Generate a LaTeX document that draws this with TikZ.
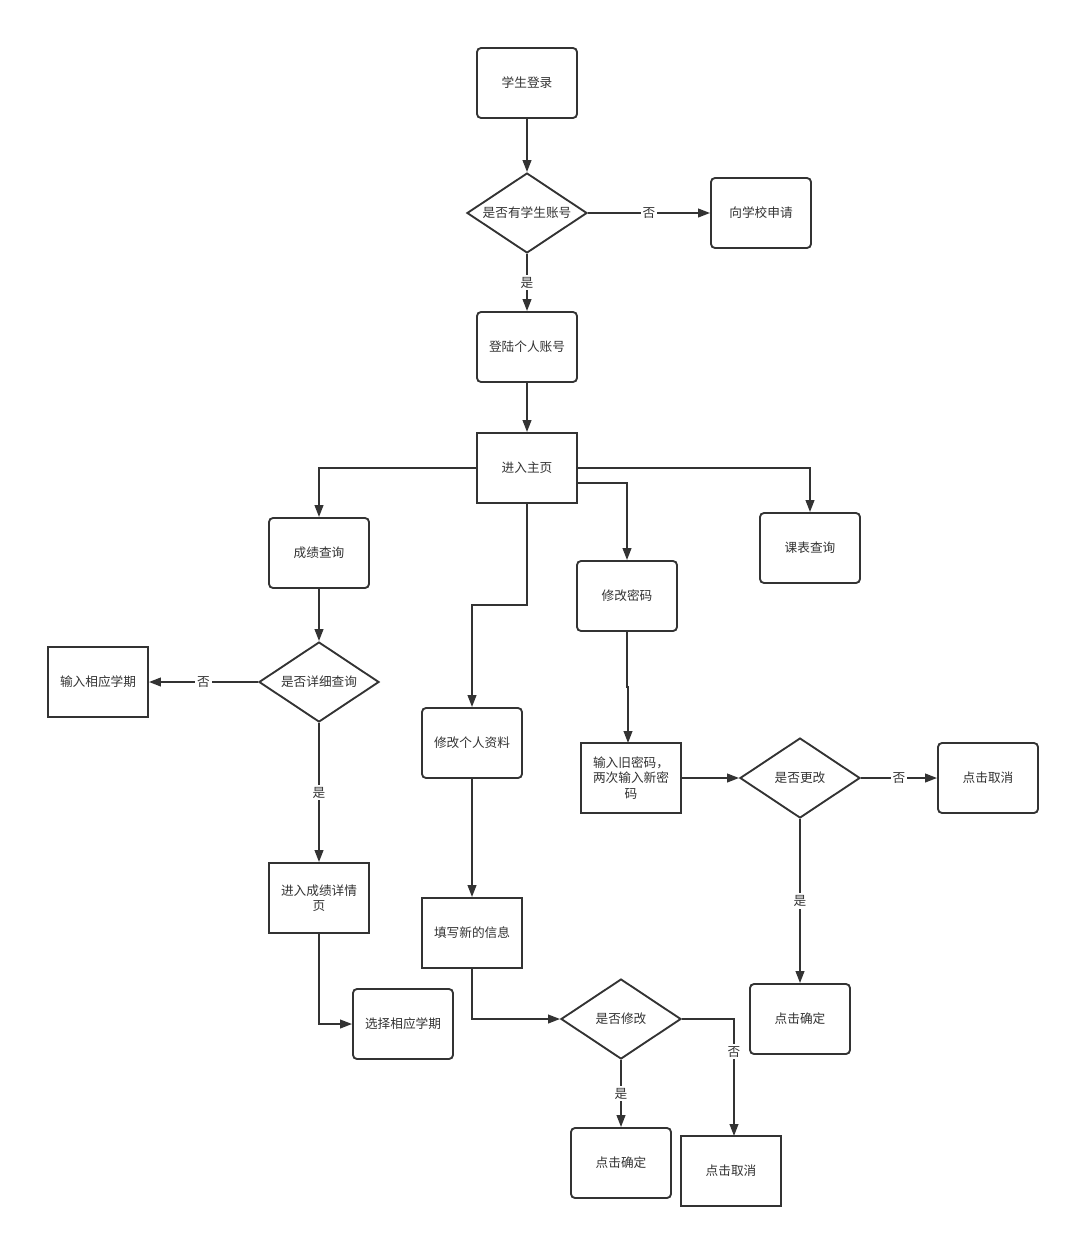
\documentclass[tikz,border=0pt]{standalone}
\usepackage{fontspec}
\setmainfont{Noto Sans CJK SC}
\usetikzlibrary{arrows.meta,shapes.geometric}
\definecolor{ln}{HTML}{333333}
\tikzset{
  box/.style={draw=ln,line width=1.4pt,minimum width=75pt,minimum height=52.5pt,inner sep=1pt,align=center,font=\fontsize{9.5pt}{11.5pt}\selectfont,text=ln},
  rbox/.style={box,rounded corners=3pt},
  sbox/.style={box},
  dia/.style={draw=ln,line width=1.4pt,diamond,aspect=1.5,minimum width=90pt,minimum height=60pt,inner sep=0pt,align=center,font=\fontsize{9.5pt}{11.5pt}\selectfont,text=ln},
  arr/.style={draw=ln,line width=1.4pt,-{Triangle[length=9pt,width=6.5pt]}},
  lbl/.style={fill=white,inner sep=1.5pt,font=\fontsize{9.5pt}{11.5pt}\selectfont,text=ln}
}
\begin{document}
\begin{tikzpicture}[x=0.75pt,y=-0.75pt]
\path[use as bounding box,fill=white] (0,0) rectangle (1070,1238);
% nodes
\node[rbox] (login) at (527,83) {学生登录};
\node[dia] (d1) at (527,213) {是否有学生账号};
\node[rbox] (apply) at (761,213) {向学校申请};
\node[rbox] (acct) at (527,347) {登陆个人账号};
\node[sbox] (home) at (527,468) {进入主页};
\node[rbox] (score) at (319,553) {成绩查询};
\node[rbox] (sched) at (810,548) {课表查询};
\node[rbox] (pwd) at (627,596) {修改密码};
\node[dia] (d2) at (319,682) {是否详细查询};
\node[sbox] (term1) at (98,682) {输入相应学期};
\node[rbox] (info) at (472,743) {修改个人资料};
\node[sbox] (oldpwd) at (631,778) {输入旧密码，\\两次输入新密\\码};
\node[dia] (d3) at (800,778) {是否更改};
\node[rbox] (cancel1) at (988,778) {点击取消};
\node[sbox] (detail) at (319,898) {进入成绩详情\\页};
\node[sbox] (fill) at (472,933) {填写新的信息};
\node[rbox] (term2) at (403,1024) {选择相应学期};
\node[dia] (d4) at (621,1019) {是否修改};
\node[rbox] (ok1) at (800,1019) {点击确定};
\node[rbox] (ok2) at (621,1163) {点击确定};
\node[sbox] (cancel2) at (731,1171) {点击取消};
% connectors
\draw[arr] (login) -- (d1);
\draw[arr] (d1) -- node[lbl,pos=0.5]{否} (apply);
\draw[arr] (d1) -- node[lbl,pos=0.5]{是} (acct);
\draw[arr] (acct) -- (home);
\draw[arr] (home.west) -| (score.north);
\draw[arr] (home.east) -| (sched.north);
\draw[arr] ([yshift=-11.25pt]home.east) -| (pwd.north);
\draw[arr] (home.south) -- (527,605) -| (info.north);
\draw[arr] (score) -- (d2);
\draw[arr] (d2) -- node[lbl,pos=0.5]{否} (term1);
\draw[arr] (d2) -- node[lbl,pos=0.5]{是} (detail);
\draw[arr] (detail.south) |- (term2.west);
\draw[arr] (info) -- (fill);
\draw[arr] (fill.south) |- (d4.west);
\draw[arr] (pwd.south) -- (627,687) -- (628,687) -- (628,743);
\draw[arr] (oldpwd) -- (d3);
\draw[arr] (d3) -- node[lbl,pos=0.5]{否} (cancel1);
\draw[arr] (d3) -- node[lbl,pos=0.5]{是} (ok1);
\draw[arr] (d4) -- node[lbl,pos=0.5]{是} (ok2);
\draw[arr] (d4.east) -- (734,1019) -- node[lbl,pos=0.28]{否} (734,1136);
\end{tikzpicture}
\end{document}
